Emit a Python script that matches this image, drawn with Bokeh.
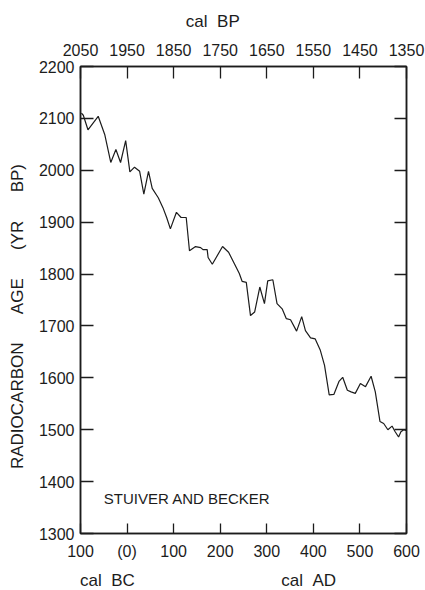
from bokeh.plotting import figure
from bokeh.models import Range1d, LinearAxis, FixedTicker, Label
from bokeh.embed import file_html
from bokeh.resources import INLINE

# calendar years (AD; negative = BC) and radiocarbon ages (yr BP)
cal_year = [-98, -94, -84, -62, -48, -35, -24, -14, -3, 6, 16, 27, 36, 46, 54, 67,
            77, 85, 93, 106, 116, 127, 134, 147, 158, 163, 172, 174, 183, 205, 218,
            231, 241, 247, 256, 265, 274, 285, 295, 302, 313, 322, 333, 342, 351,
            364, 375, 383, 394, 404, 415, 424, 434, 444, 455, 463, 473, 481, 490,
            501, 512, 524, 533, 543, 551, 560, 569, 575, 583, 588, 594, 600]
c14_age = [2110, 2106, 2078, 2104, 2069, 2015, 2040, 2015, 2057, 1997, 2006, 1998,
           1954, 1998, 1965, 1947, 1928, 1909, 1887, 1919, 1909, 1909, 1845, 1853,
           1851, 1847, 1847, 1832, 1819, 1853, 1842, 1819, 1801, 1786, 1784, 1720,
           1727, 1775, 1743, 1787, 1789, 1743, 1733, 1714, 1712, 1690, 1718, 1691,
           1677, 1675, 1653, 1624, 1567, 1568, 1593, 1601, 1576, 1573, 1570, 1589,
           1583, 1603, 1573, 1516, 1512, 1500, 1507, 1497, 1486, 1496, 1500, 1498]

bottom_ticks = [-100, 0, 100, 200, 300, 400, 500, 600]
bottom_labels = ["100", "(0)", "100", "200", "300", "400", "500", "600"]
bp_ticks = [2050, 1950, 1850, 1750, 1650, 1550, 1450, 1350]
age_ticks = [1300, 1400, 1500, 1600, 1700, 1800, 1900, 2000, 2100, 2200]

NB = "\u00a0"
FONT = "Liberation Sans"
INK = "#1c1c1c"
FS = "16px"

p = figure(frame_width=326, frame_height=467,
           x_range=Range1d(-100, 600), y_range=Range1d(1300, 2200),
           output_backend="svg", toolbar_location=None,
           min_border_left=80, min_border_right=19,
           min_border_top=66, min_border_bottom=50)
p.grid.visible = False
p.outline_line_color = INK
p.outline_line_width = 1.5
p.background_fill_color = "white"
p.border_fill_color = "white"

def style(ax, tick_len=12):
    ax.major_tick_in = tick_len
    ax.major_tick_out = 0
    ax.minor_tick_in = 0
    ax.minor_tick_out = 0
    ax.axis_line_color = INK
    ax.axis_line_width = 1.5
    ax.major_tick_line_color = INK
    ax.major_tick_line_width = 1.3
    ax.major_label_text_font = FONT
    ax.major_label_text_font_size = FS
    ax.major_label_text_color = INK
    ax.axis_label_text_font = FONT
    ax.axis_label_text_font_size = "17px"
    ax.axis_label_text_font_style = "normal"
    ax.axis_label_text_color = INK

# bottom axis
xa = p.xaxis[0]
xa.ticker = FixedTicker(ticks=bottom_ticks)
xa.major_label_overrides = {t: l for t, l in zip(bottom_ticks, bottom_labels)}
style(xa, 10)
xa.major_label_standoff = 9

# second (label-only) bottom axis carrying "cal BC ... cal AD"
lab = LinearAxis(ticker=FixedTicker(ticks=[]),
                 axis_label="cal" + NB * 2 + "BC" + NB * 31 + "cal" + NB * 2 + "AD" + NB * 15)
style(lab, 0)
lab.axis_line_color = None
lab.major_tick_line_color = None
lab.major_label_standoff = 0
lab.axis_label_standoff = 8
p.add_layout(lab, "below")

# left axis
ya = p.yaxis[0]
ya.ticker = FixedTicker(ticks=age_ticks)
style(ya, 13)
ya.major_label_standoff = 6
ya.axis_label = ("RADIOCARBON" + NB * 6 + "AGE" + NB * 6 + "(YR" + NB * 6 + "BP)" + NB * 7)
ya.axis_label_standoff = 9

# top axis (cal BP)
p.extra_x_ranges = {"bp": Range1d(2050, 1350)}
top = LinearAxis(x_range_name="bp", ticker=FixedTicker(ticks=bp_ticks),
                 axis_label="cal" + NB * 2 + "BP" + NB * 13)
style(top, 12)
top.major_label_standoff = 11
top.axis_label_standoff = 10
p.add_layout(top, "above")

# right axis (ticks only)
right = LinearAxis(ticker=FixedTicker(ticks=age_ticks))
style(right, 12)
right.major_label_overrides = {t: "" for t in age_ticks}
right.major_label_standoff = 0
p.add_layout(right, "right")

p.line(cal_year, c14_age, line_color=INK, line_width=1.2)

p.add_layout(Label(x=-50, y=1367, text="STUIVER AND BECKER", text_align="left",
                   text_baseline="middle", text_font=FONT, text_font_size="15px",
                   text_color=INK))

open("out.html", "w").write(file_html(p, INLINE))
